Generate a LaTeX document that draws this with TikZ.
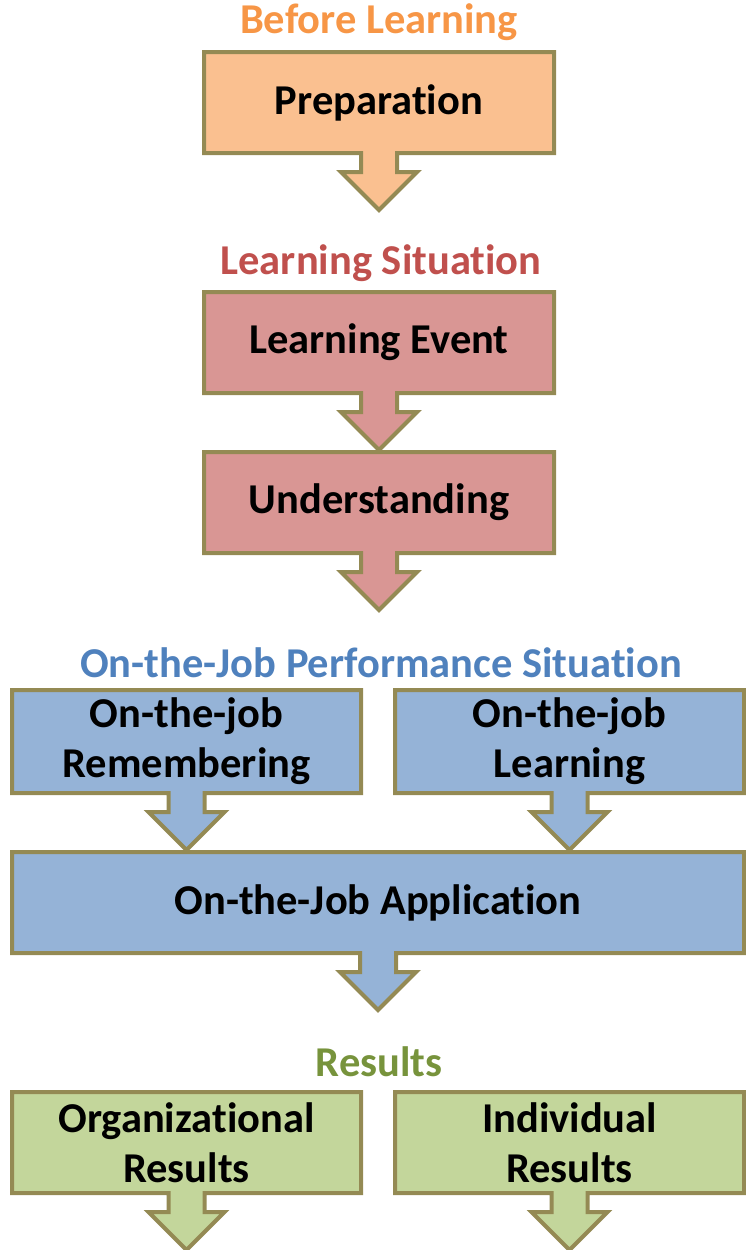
\documentclass[tikz,border=0pt]{standalone}
\usepackage{fontspec}
\setmainfont{Carlito}[Ligatures=NoCommon]
\usepackage{xcolor}
\usepackage{tikz}
\usetikzlibrary{shapes.arrows}

\definecolor{rimolive}{HTML}{948A54}
\definecolor{prepfill}{HTML}{FAC090}
\definecolor{preptext}{HTML}{F79646}
\definecolor{learnfill}{HTML}{D99694}
\definecolor{learntext}{HTML}{C0504D}
\definecolor{jobfill}{HTML}{95B3D7}
\definecolor{jobtext}{HTML}{4F81BD}
\definecolor{resfill}{HTML}{C3D69B}
\definecolor{restext}{HTML}{77933C}

\tikzset{
  stagebox/.style={arrow box, draw=rimolive, line width=4pt, fill=#1,
    minimum width=350pt, minimum height=101pt, inner sep=0pt, align=center,
    font=\fontsize{42.5}{50}\selectfont\bfseries,
    arrow box arrows={south:55pt from border},
    arrow box shaft width=36pt, arrow box head extend=20pt,
    arrow box tip angle=90},
  phase/.style={font=\fontsize{42.5}{50}\selectfont\bfseries, text=#1}
}

\begin{document}
\begin{tikzpicture}[x=1pt,y=-1pt]
\useasboundingbox (0,0) rectangle (746,1250);

% before learning
\node[phase=preptext] (tprep) at (379,22) {Before Learning};
\node[stagebox=prepfill] (prep) at (379,102.5) {Preparation};

% learning situation
\node[phase=learntext] (tlearn) at (381,263) {Learning Situation};
\node[stagebox=learnfill] (event) at (379,342.5) {Learning Event};
\node[stagebox=learnfill] (under) at (379,502.5) {Understanding};

% on the job
\node[phase=jobtext] (tjob) at (381,663) {On-the-Job Performance Situation};
\node[stagebox=jobfill, minimum width=349pt, minimum height=103pt] (remem) at (186.5,741.5) {On-the-job\\Remembering};
\node[stagebox=jobfill, minimum width=349pt, minimum height=103pt] (jlearn) at (569.5,741.5) {On-the-job\\Learning};
\node[stagebox=jobfill, minimum width=732pt] (appl) at (378,902.5) {On-the-Job Application};

% results
\node[phase=restext] (tres) at (379,1062) {Results};
\node[stagebox=resfill, minimum width=349pt] (org) at (186.5,1142.5) {Organizational\\Results};
\node[stagebox=resfill, minimum width=349pt] (indiv) at (569.5,1142.5) {Individual\\Results};
\end{tikzpicture}
\end{document}
